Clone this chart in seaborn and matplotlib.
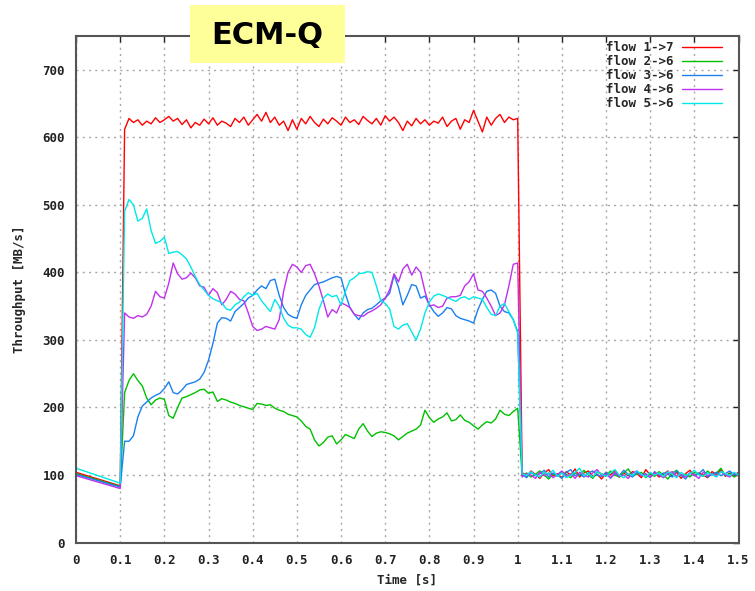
import matplotlib
matplotlib.use("Agg")
import matplotlib.pyplot as plt
from matplotlib.patches import Rectangle
import seaborn as sns
import pandas as pd
import numpy as np

# time grid: ramp before the burst, burst (0.11-1.00), tail after it
time_head = [0.0, 0.1]
time_main = np.round(np.arange(0.11, 1.0001, 0.01), 2)
time_tail = np.round(np.arange(1.01, 1.5001, 0.01), 2)

flows = ["flow 1->7", "flow 2->6", "flow 3->6", "flow 4->6", "flow 5->6"]
colors = ["#ff0000", "#00c000", "#1a80f0", "#c030f0", "#00e8e8"]

head = {
    "flow 1->7": [104, 84],
    "flow 2->6": [102, 83],
    "flow 3->6": [101, 82],
    "flow 4->6": [99, 80],
    "flow 5->6": [110, 88],
}

flow1_main = [612, 628, 622, 626, 618, 624, 620, 629, 622, 626,
              631, 624, 628, 619, 626, 614, 622, 618, 627, 620,
              629, 618, 624, 621, 616, 628, 622, 630, 618, 626,
              634, 624, 637, 622, 630, 618, 624, 610, 626, 612,
              628, 620, 631, 622, 616, 627, 620, 629, 624, 618,
              630, 622, 626, 619, 631, 625, 620, 628, 618, 632,
              624, 630, 622, 610, 624, 617, 628, 620, 626, 618,
              624, 621, 630, 616, 624, 628, 612, 626, 622, 640,
              624, 608, 630, 618, 628, 634, 622, 630, 626, 628]
flow2_main = [222, 240, 250, 240, 232, 214, 204, 211, 214, 212,
              188, 184, 200, 214, 216, 219, 222, 226, 227, 221,
              223, 209, 213, 211, 208, 206, 203, 201, 199, 197,
              206, 205, 203, 204, 199, 196, 194, 190, 188, 186,
              180, 172, 168, 152, 143, 148, 156, 158, 146, 152,
              160, 157, 154, 168, 176, 165, 157, 162, 164, 163,
              161, 158, 152, 157, 162, 165, 168, 174, 196, 185,
              178, 183, 186, 192, 180, 182, 189, 181, 178, 173,
              168, 174, 179, 177, 183, 196, 190, 188, 194, 199]
flow3_main = [150, 150, 158, 186, 202, 208, 214, 218, 221, 228,
              238, 222, 220, 226, 234, 236, 238, 242, 252, 270,
              295, 325, 333, 332, 328, 342, 348, 354, 362, 366,
              374, 380, 376, 388, 390, 366, 348, 338, 334, 332,
              352, 366, 374, 382, 384, 386, 389, 392, 394, 392,
              368, 348, 338, 330, 340, 345, 347, 352, 358, 362,
              369, 396, 378, 352, 366, 382, 380, 362, 365, 352,
              342, 335, 340, 348, 346, 336, 332, 330, 328, 325,
              345, 360, 372, 374, 369, 350, 342, 340, 330, 312]
flow4_main = [340, 334, 332, 336, 334, 338, 350, 372, 364, 362,
              384, 414, 398, 390, 392, 399, 392, 380, 378, 366,
              376, 370, 352, 360, 372, 368, 360, 358, 340, 320,
              314, 316, 320, 318, 316, 330, 372, 400, 412, 408,
              400, 410, 412, 398, 380, 358, 334, 345, 340, 355,
              352, 348, 338, 336, 335, 340, 343, 347, 352, 362,
              374, 398, 386, 405, 412, 396, 408, 400, 372, 350,
              352, 348, 350, 362, 364, 364, 366, 380, 386, 398,
              374, 372, 362, 350, 336, 340, 352, 380, 412, 414]
flow5_main = [490, 508, 500, 476, 480, 494, 462, 443, 446, 452,
              428, 430, 431, 426, 420, 408, 394, 382, 374, 366,
              361, 358, 355, 346, 344, 352, 356, 364, 370, 366,
              369, 358, 350, 342, 360, 350, 332, 322, 318, 318,
              316, 308, 304, 318, 345, 362, 368, 364, 366, 352,
              372, 388, 392, 398, 399, 401, 400, 380, 358, 354,
              346, 320, 316, 322, 324, 312, 300, 316, 340, 356,
              365, 368, 366, 363, 360, 357, 362, 364, 360, 364,
              362, 360, 348, 338, 336, 350, 354, 342, 330, 310]

flow1_tail = [104, 98, 106, 101, 95, 103, 108, 99, 102, 96,
              105, 100, 109, 97, 103, 106, 98, 101, 94, 104,
              100, 107, 97, 103, 99, 105, 102, 96, 108, 100,
              103, 97, 101, 106, 98, 104, 95, 102, 107, 99,
              103, 100, 96, 105, 101, 108, 98, 103, 100, 104]
flow2_tail = [99, 103, 97, 101, 106, 100, 94, 102, 98, 105,
              101, 96, 103, 99, 107, 100, 95, 104, 102, 98,
              106, 100, 97, 103, 109, 99, 101, 104, 96, 102,
              98, 105, 100, 94, 103, 107, 99, 101, 97, 104,
              102, 98, 106, 100, 103, 110, 99, 102, 97, 101]
flow3_tail = [101, 96, 104, 99, 102, 107, 97, 103, 100, 95,
              104, 108, 99, 101, 97, 103, 106, 100, 98, 104,
              95, 102, 99, 107, 101, 97, 104, 100, 102, 96,
              105, 99, 103, 101, 97, 106, 100, 94, 103, 99,
              102, 108, 97, 101, 104, 99, 102, 106, 100, 103]
flow4_tail = [97, 102, 100, 95, 104, 99, 103, 96, 101, 106,
              98, 102, 95, 104, 100, 97, 103, 108, 99, 101,
              96, 104, 98, 100, 95, 103, 106, 99, 101, 97,
              104, 100, 96, 102, 105, 98, 101, 97, 103, 100,
              95, 104, 99, 102, 98, 105, 100, 97, 103, 99]
flow5_tail = [102, 99, 105, 100, 97, 104, 101, 107, 98, 103,
              96, 100, 104, 110, 99, 102, 97, 105, 101, 98,
              103, 108, 100, 96, 102, 99, 106, 101, 97, 104,
              100, 103, 98, 105, 101, 96, 104, 99, 102, 107,
              100, 98, 103, 101, 97, 105, 102, 99, 104, 100]

main = dict(zip(flows, [flow1_main, flow2_main, flow3_main, flow4_main, flow5_main]))
tail = dict(zip(flows, [flow1_tail, flow2_tail, flow3_tail, flow4_tail, flow5_tail]))

x_ticks = [0, 0.1, 0.2, 0.3, 0.4, 0.5, 0.6, 0.7, 0.8, 0.9, 1.0, 1.1, 1.2, 1.3, 1.4, 1.5]
x_tick_labels = ["0", "0.1", "0.2", "0.3", "0.4", "0.5", "0.6", "0.7", "0.8", "0.9",
                 "1", "1.1", "1.2", "1.3", "1.4", "1.5"]
y_ticks = [0, 100, 200, 300, 400, 500, 600, 700]

rows = []
for f in flows:
    t = list(time_head) + list(time_main) + list(time_tail)
    v = head[f] + main[f] + tail[f]
    for ti, vi in zip(t, v):
        rows.append({"time": ti, "throughput": vi, "flow": f})
df = pd.DataFrame(rows)

sns.set_style("white")
plt.rcParams["font.family"] = ["DejaVu Sans Mono"]
plt.rcParams["font.weight"] = "bold"

fig = plt.figure(figsize=(7.55, 5.91), dpi=100)
ax = fig.add_axes([0.1007, 0.082, 0.8775, 0.857])

sns.lineplot(data=df, x="time", y="throughput", hue="flow", hue_order=flows,
             palette=colors, linewidth=1.0, ax=ax, estimator=None, sort=False)

ax.set_xlim(0, 1.5)
ax.set_ylim(0, 750)
ax.set_xticks(x_ticks)
ax.set_xticklabels(x_tick_labels)
ax.set_yticks(y_ticks)
ax.tick_params(direction="in", length=4, width=1, colors="#222222", labelsize=9,
               top=True, right=True, pad=8)
ax.grid(True, color="#a8a8a8", linestyle=(0, (1.5, 3)), linewidth=1)
for s in ax.spines.values():
    s.set_color("#555555")
    s.set_linewidth(1.5)

ax.set_xlabel("Time [s]", fontsize=9, fontweight="bold", labelpad=5)
ax.set_ylabel("Throughput [MB/s]", fontsize=9, fontweight="bold", labelpad=12)

handles, labels = ax.get_legend_handles_labels()
ax.legend(handles, labels, loc="upper right", bbox_to_anchor=(0.9825, 1.0),
          frameon=False, markerfirst=False, borderaxespad=0,
          prop={"family": "DejaVu Sans Mono", "weight": "bold", "size": 9},
          handlelength=3.2, labelspacing=0.08, handletextpad=0.7)

# yellow title box over the top spine
box = Rectangle((190 / 755, 1 - 63 / 591), 155 / 755, 58 / 591, transform=fig.transFigure,
                facecolor="#ffff99", edgecolor="none", zorder=5)
fig.add_artist(box)
fig.text(267 / 755, 1 - 36 / 591, "ECM-Q", ha="center", va="center", fontsize=22,
         fontweight="bold", family="DejaVu Sans", color="black", zorder=6)

fig.savefig("out.png", dpi=100)
